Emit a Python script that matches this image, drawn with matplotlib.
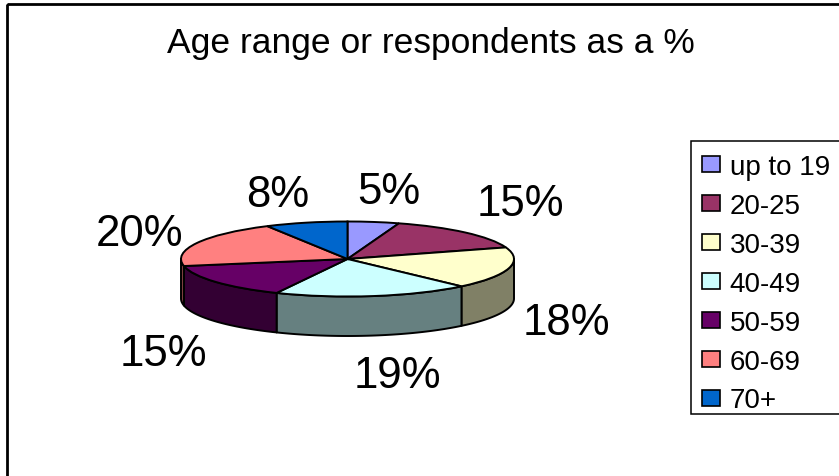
import numpy as np
import matplotlib
matplotlib.use('Agg')
import matplotlib.pyplot as plt
from matplotlib.patches import Rectangle

plt.rcParams['font.family'] = ['Liberation Sans', 'DejaVu Sans']

age_groups = ['up to 19', '20-25', '30-39', '40-49', '50-59', '60-69', '70+']
percents = [5, 15, 18, 19, 15, 20, 8]
top_colors = ['#9999FF', '#993366', '#FFFFCC', '#CCFFFF', '#660066', '#FF8080', '#0066CC']
title_text = 'Age range or respondents as a %'

W, H = 839, 477
# pie geometry in pixels
cx, cy = 347.5, 260
rx, ry = 166.5, 37.5
depth = 39.5 / ry

# where each percent label sits, in pixels
label_xy = [(389, 193), (520, 205), (566, 324), (397, 377), (163, 355), (139, 235), (278, 196)]

fig = plt.figure(figsize=(W / 100, H / 100), dpi=100, facecolor='white')

ax = fig.add_axes([0, 0, 1, 1])
wedges, _ = ax.pie(percents, colors=top_colors, startangle=90, counterclock=False,
                   wedgeprops={'edgecolor': 'black', 'linewidth': 1.4, 'zorder': 3})
ax.set_aspect('auto')
ax.set_xlim(-cx / rx, (W - cx) / rx)
ax.set_ylim(-(H - cy) / ry, cy / ry)
ax.axis('off')

# side wall of the disc, only the front half can be seen
edges = np.cumsum([0] + percents) / sum(percents) * 360
for i in range(len(percents)):
    a0 = max(edges[i], 90)
    a1 = min(edges[i + 1], 270)
    if a1 <= a0:
        continue
    t = np.radians(np.linspace(a0, a1, 60))
    xs = np.sin(t)
    ys = np.cos(t)
    wall = np.array(matplotlib.colors.to_rgb(top_colors[i])) * 0.5
    ax.fill(np.r_[xs, xs[::-1]], np.r_[ys, ys[::-1] - depth], facecolor=wall,
            edgecolor='black', linewidth=1.4, zorder=2, joinstyle='round')

# overlay in pixel coordinates for text, frame and legend
ov = fig.add_axes([0, 0, 1, 1], facecolor='none')
ov.set_xlim(0, W)
ov.set_ylim(H, 0)
ov.axis('off')

ov.add_patch(Rectangle((7, 5), W, H, facecolor='none', edgecolor='black', linewidth=2, clip_on=True))
ov.text(430.5, 44, title_text, fontsize=25.5, ha='center', va='center', color='black')

for v, (x, y) in zip(percents, label_xy):
    ov.text(x, y, f'{v}%', fontsize=31.5, ha='center', va='center', color='black')

ov.add_patch(Rectangle((691, 142), 200, 273, facecolor='white', edgecolor='black', linewidth=1.1))
leg = ov.legend(wedges, age_groups, loc='upper left', bbox_to_anchor=(702, 155),
                bbox_transform=ov.transData, frameon=False, borderpad=0, borderaxespad=0,
                fontsize=20, handlelength=0.66, handleheight=0.51, handletextpad=0.33,
                labelspacing=0.465)
for h in leg.get_patches():
    h.set_linewidth(1.2)

fig.savefig('out.png', dpi=100)
